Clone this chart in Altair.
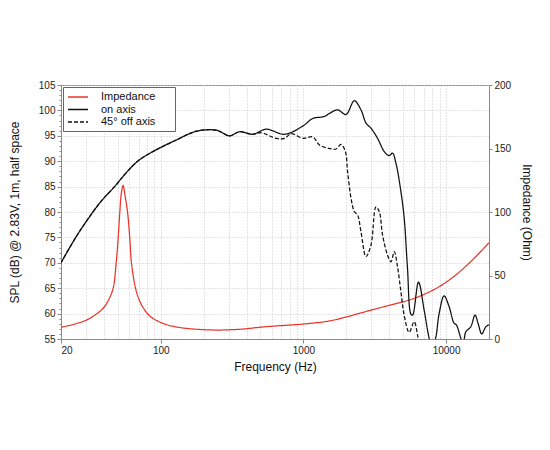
import altair as alt
import pandas as pd

# ---- data ----
on_f = [20, 25, 30, 38.2, 47.5, 58, 69, 82, 100, 129, 178, 245, 304, 357, 442,
        549, 737, 989, 1162, 1403, 1521, 1739, 1990, 2275, 2534, 2747, 2977, 3311, 3689,
        3990, 4216, 4455, 4826, 5088, 5367, 5669, 5825, 6412, 7020, 7600, 8000, 8500, 8940,
        9690, 10500, 11380, 11800, 12680, 13200, 13750, 14900, 15960, 16800, 17780, 19000,
        20000]
on_db = [70.0, 74.7, 78.1, 82.1, 85.0, 87.9, 90.0, 91.4, 92.7, 94.2, 95.9, 96.1,
         95.0, 95.8, 95.3, 96.3, 95.3, 96.9, 98.4, 98.8, 99.4, 100.1, 99.2, 101.9, 100.1,
         97.5, 96.5, 94.5, 91.9, 91.1, 91.6, 89.6, 84.0, 78.8, 68.9, 59.9, 59.7, 66.2, 60.7,
         55.2, 53.0, 55.5, 60.0, 63.5, 61.4, 58.1, 57.8, 55.2, 54.0, 56.4, 57.4, 59.7, 58.0,
         56.0, 57.4, 57.8]

off_f = [20, 25, 30, 38.2, 47.5, 58, 69, 82, 100, 129, 178, 245, 304, 357, 442,
         506, 644, 737, 820, 1000, 1162, 1295, 1521, 1694, 1836, 1969, 2042, 2158, 2275,
         2400, 2534, 2747, 2977, 3228, 3403, 3588, 3889, 4110, 4334, 4570, 4826, 5088, 5516,
         5980, 6310, 6600]
off_db = [70.0, 74.7, 78.1, 82.1, 85.0, 87.9, 90.0, 91.4, 92.7, 94.2, 95.9,
          96.1, 95.0, 95.8, 95.3, 95.6, 94.5, 94.5, 95.4, 94.5, 94.8, 93.2, 92.5, 92.4,
          93.3, 91.9, 87.9, 82.7, 80.1, 79.4, 76.1, 71.2, 73.5, 81.0, 80.1, 75.5, 71.5,
          70.2, 72.2, 69.2, 64.3, 59.7, 56.3, 58.4, 55.8, 52.0]

imp_f = [20, 25, 30, 34.6, 39.5, 43, 46.4, 48.7, 50.3, 51.7, 53, 54.5, 56, 58.5, 60.7,
         62.4, 66.6, 70, 75, 84, 100, 120, 151, 230, 350, 548, 1000, 1521, 2000, 3400, 4000,
         5516, 6832, 8940, 11700, 15290, 20000]
imp_ohm = [9.2, 11.8, 14.8, 18.9, 24.2, 30.5, 39.9, 59.6, 79.3, 100.2, 115, 121, 114,
           100.2, 79.3, 59.6, 39.9, 32.0, 25.0, 18.0, 13.0, 10.2, 8.4, 7.1, 7.6, 9.7, 11.8,
           14.2, 17.4, 24.5, 26.5, 30.7, 34.6, 41.2, 50.4, 62.2, 75.8]

series_names = ["Impedance", "on axis", "45° off axis"]
x_ticks = [20, 30, 40, 50, 60, 70, 80, 90, 100, 200, 300, 400, 500, 600, 700, 800, 900,
           1000, 2000, 3000, 4000, 5000, 6000, 7000, 8000, 9000, 10000, 20000]
x_labels = [20, 100, 1000, 10000]
spl_ticks = list(range(55, 106))
imp_ticks = [0, 50, 100, 150, 200]

spl = pd.DataFrame({
    "f": on_f + off_f,
    "v": on_db + off_db,
    "series": ["on axis"] * len(on_f) + ["45° off axis"] * len(off_f),
})
imp = pd.DataFrame({"f": imp_f, "v": imp_ohm, "series": ["Impedance"] * len(imp_f)})

FONT = "Liberation Sans"
GRID = "#c8c8c8"
AX = "#8a8a8a"

label_test = " || ".join(f"datum.value == {v}" for v in x_labels)
x_enc = alt.X(
    "f:Q",
    scale=alt.Scale(type="log", domain=[20, 20000], nice=False),
    axis=alt.Axis(
        title="Frequency (Hz)",
        values=x_ticks,
        labelExpr=f"({label_test}) ? format(datum.value, 'd') : ''",
        tickSize={"condition": {"test": label_test, "value": 4}, "value": 0},
        grid=True,
        gridDash=[1, 2],
        gridColor=GRID,
        labelPadding=2,
        titlePadding=6,
    ),
)

# trailing no-break spaces widen the legend box; the final zero-width space keeps them from being trimmed
legend_label = "datum.label + '" + "\u00a0" * 5 + "\u200b'"
color = alt.Color(
    "series:N",
    scale=alt.Scale(domain=series_names, range=["#e8352b", "#111111", "#111111"]),
    legend=alt.Legend(title=None, labelExpr=legend_label),
)
dash = alt.StrokeDash(
    "series:N",
    scale=alt.Scale(domain=series_names, range=[[1, 0], [1, 0], [4, 2]]),
    legend=alt.Legend(title=None, labelExpr=legend_label),
)

spl_layer = alt.Chart(spl).mark_line(clip=True, strokeWidth=1.25, interpolate="catmull-rom").encode(
    x=x_enc,
    y=alt.Y(
        "v:Q",
        scale=alt.Scale(domain=[55, 105], nice=False, zero=False),
        axis=alt.Axis(
            title="SPL (dB) @ 2.83V, 1m, half space",
            values=spl_ticks,
            labelExpr="datum.value % 5 == 0 ? datum.label : ''",
            tickSize={"condition": {"test": "datum.value % 5 == 0", "value": 4}, "value": 2},
            gridOpacity={"condition": {"test": "datum.value % 5 == 0", "value": 1}, "value": 0},
            grid=True,
            gridDash=[1, 2],
            gridColor=GRID,
            labelPadding=2,
            titlePadding=17,
        ),
    ),
    color=color,
    strokeDash=dash,
)

imp_layer = alt.Chart(imp).mark_line(clip=True, strokeWidth=1.25, interpolate="catmull-rom").encode(
    x=x_enc,
    y=alt.Y(
        "v:Q",
        scale=alt.Scale(domain=[0, 200], nice=False),
        axis=alt.Axis(
            title="Impedance (Ohm)",
            orient="right",
            values=imp_ticks,
            grid=False,
            tickSize=3,
            labelPadding=2,
            titlePadding=9,
        ),
    ),
    color=color,
    strokeDash=dash,
)

chart = (
    alt.layer(imp_layer, spl_layer)
    .resolve_scale(y="independent")
    .properties(
        width=428,
        height=254,
        autosize=alt.AutoSizeParams(type="none"),
        padding={"left": 53, "top": 77, "right": 53, "bottom": 100},
    )
    .configure_view(stroke=AX, strokeWidth=1)
    .configure_axis(
        labelFont=FONT,
        titleFont=FONT,
        labelFontSize=10,
        titleFontSize=12,
        titleFontWeight="normal",
        labelColor="#222",
        titleColor="#111",
        domainColor=AX,
        tickColor=AX,
    )
    .configure_legend(
        orient="none",
        legendX=2,
        legendY=2,
        strokeColor="#666",
        fillColor="white",
        padding=4,
        labelFont=FONT,
        labelFontSize=11,
        labelColor="#111",
        symbolType="M-1,0H3",
        symbolSize=100,
        symbolStrokeWidth=1.3,
        rowPadding=1.5,
        labelOffset=22,
        cornerRadius=0,
    )
)

chart.save("out.html", embed_options={"renderer": "svg", "actions": False})
